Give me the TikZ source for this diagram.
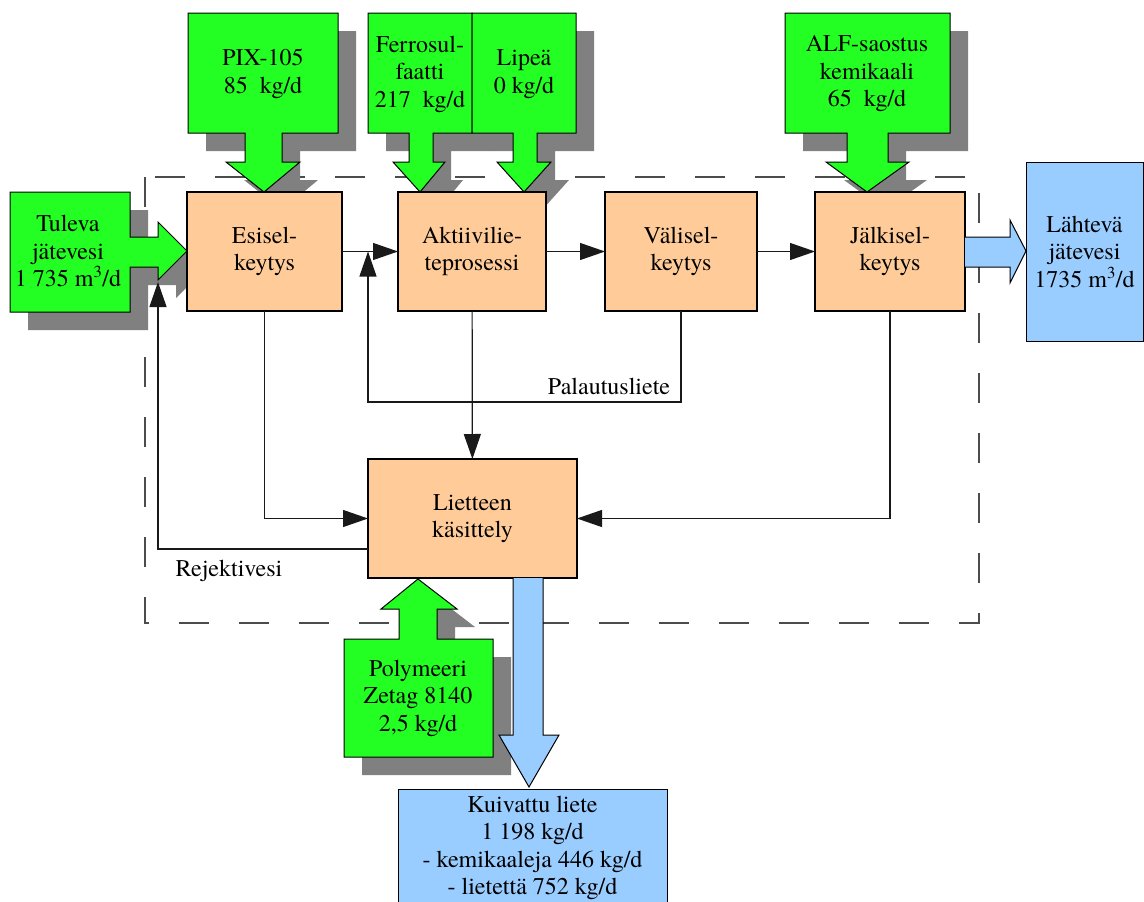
\documentclass[tikz,border=0pt]{standalone}
\usepackage{fontspec}
\setmainfont{texgyretermes}[Extension=.otf, UprightFont=*-regular,
  BoldFont=*-bold, ItalicFont=*-italic, BoldItalicFont=*-bolditalic]
\usetikzlibrary{arrows.meta,positioning}
\definecolor{fchem}{HTML}{23FF23}
\definecolor{fproc}{HTML}{FFCC99}
\definecolor{fout}{HTML}{99CCFF}
\definecolor{fshade}{HTML}{808080}

\begin{document}
\begin{tikzpicture}[x=1pt, y=-1pt, font=\fontsize{24pt}{27.5pt}\selectfont,
  proc/.style={draw, line width=1.2pt, fill=fproc, minimum width=#1,
    minimum height=119pt, inner sep=0pt, outer sep=0pt, align=center},
  proc/.default=155pt,
  outbox/.style={draw, line width=1pt, fill=fout, inner sep=0pt,
    outer sep=0pt, align=center},
  chem/.style={draw, line width=1pt, fill=fchem},
  shade/.style={fill=fshade},
  outflow/.style={draw, line width=1pt, fill=fout},
  flow/.style={line width=1.2pt, black!90, -{Triangle[length=25pt, width=17pt]}},
  tag/.style={align=center, inner sep=0pt}]
\useasboundingbox (0,0) rectangle (1144,902);
\clip (0,0) rectangle (1144,902);
% ---------------- plant boundary ----------------
\draw[black!70, line width=1.2pt, dash pattern=on 30pt off 30pt]
  (145,177) rectangle (979,623);
% ---------------- chemical feeds: shadows first, then the green shapes ----------------
\foreach \d/\sty in {18/shade, 0/chem}{
  \begin{scope}[shift={(\d,\d)}]
  % tuleva jatevesi
  \path[\sty] (10,192) -- (130,192) -- (130,237) -- (158,237) -- (158,222)
    -- (187,251) -- (158,280) -- (158,267) -- (130,267) -- (130,312)
    -- (10,312) -- cycle;
  % PIX-105
  \path[\sty] (188,13) -- (338,13) -- (338,133) -- (282,133) -- (282,162)
    -- (300,162) -- (264,192) -- (226,162) -- (245,162) -- (245,133)
    -- (188,133) -- cycle;
  % ferrosulfaatti
  \path[\sty] (368,13) -- (472,13) -- (472,133) -- (433,133) -- (433,162)
    -- (445,162) -- (420,192) -- (393,162) -- (409,162) -- (409,133)
    -- (368,133) -- cycle;
  % lipea
  \path[\sty] (472,13) -- (576,13) -- (576,133) -- (537,133) -- (537,162)
    -- (551,162) -- (524,192) -- (497,162) -- (513,162) -- (513,133)
    -- (472,133) -- cycle;
  % ALF
  \path[\sty] (785,13) -- (950,13) -- (950,133) -- (888,133) -- (888,162)
    -- (909,162) -- (867,192) -- (826,162) -- (847,162) -- (847,133)
    -- (785,133) -- cycle;
  % polymeeri
  \path[\sty] (344,757) -- (493,757) -- (493,639) -- (437,639) -- (437,609)
    -- (457,609) -- (418,579) -- (381,609) -- (399,609) -- (399,639)
    -- (344,639) -- cycle;
  \end{scope}
}
\node[tag] (tuleva) at (68,251) {Tuleva\\jätevesi\\1 735 m\textsuperscript{3}/d};
\node[tag] (pix) at (263,74) {PIX-105\\85~~kg/d};
\node[tag] (ferro) at (420,74) {Ferrosul-\\faatti\\217~~kg/d};
\node[tag] (lipea) at (524,74) {Lipeä\\0 kg/d};
\node[tag] (alf) at (867,74) {ALF-saostus\\kemikaali\\65~~kg/d};
\node[tag] (poly) at (418,698) {Polymeeri\\Zetag 8140\\2,5 kg/d};
% ---------------- process units ----------------
\node[proc] (esi) at (264.5,251.5) {Esisel-\\keytys};
\node[proc=148pt] (akt) at (472,251.5) {Aktiivilie-\\teprosessi};
\node[proc=152pt] (vali) at (681,251.5) {Välisel-\\keytys};
\node[proc=150pt] (jalki) at (890,251.5) {Jälkisel-\\keytys};
\node[proc=209pt] (liete) at (472.5,518.5) {Lietteen\\käsittely};
% ---------------- outputs ----------------
\path[outflow] (965,237) -- (1010,237) -- (1010,220) -- (1026,251)
  -- (1010,283) -- (1010,267) -- (965,267);
\path[outflow] (513,578) -- (513,735) -- (499,735) -- (529,787)
  -- (559,735) -- (543,735) -- (543,578);
\node[outbox, minimum width=117pt, minimum height=179pt] (lahteva)
  at (1084.5,251.5) {Lähtevä\\jätevesi\\1735 m\textsuperscript{3}/d};
\node[outbox, minimum width=269pt, minimum height=118pt] (kuiva)
  at (532.5,848) {Kuivattu liete\\1 198 kg/d\\- kemikaaleja 446 kg/d\\- lietettä 752 kg/d};
% ---------------- connectors ----------------
\coordinate (palbend) at (368,402);
\coordinate (palret) at (368,251.5);
\coordinate (rejtip) at (158,282);
\draw[flow] (esi) -- (akt);
\draw[flow] (akt) -- (vali);
\draw[flow] (vali) -- (jalki);
\draw[flow] (vali.south) |- (palbend) -- (palret);
\draw[flow] (akt) -- (liete);
\draw[flow] (esi.south) |- (liete.west);
\draw[flow] (jalki.south) |- (liete.east);
\draw[flow] ([yshift=-30.5pt]liete.west) -| (rejtip);
\node[tag] (palautus) at (609,386) {Palautusliete};
\node[tag] (rejekti) at (229,571) {Rejektivesi};
\end{tikzpicture}
\end{document}
